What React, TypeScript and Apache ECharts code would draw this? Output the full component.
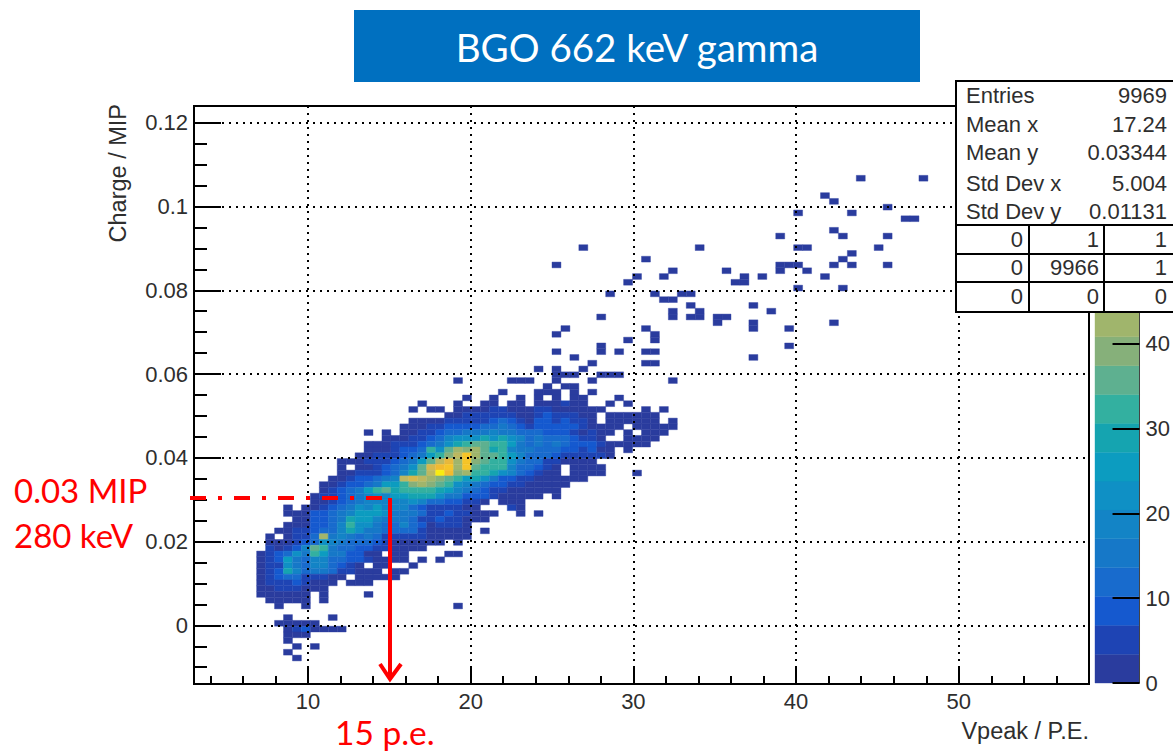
import React, { useEffect, useRef } from "react";
import * as echarts from "echarts";

const X_MIN = 3, X_MAX = 58, Y_MIN = -0.014, Y_MAX = 0.124;
const BINS = 100;
const BIN_X = (X_MAX - X_MIN) / BINS;
const BIN_Y = (Y_MAX - Y_MIN) / BINS;
const Z_MAX = 68;

const xLabelValues = [10, 20, 30, 40, 50];
const xMinorValues = [4, 6, 8, 12, 14, 16, 18, 22, 24, 26, 28, 32, 34, 36, 38, 42, 44, 46, 48, 52, 54, 56, 58];
const yLabelValues = [0, 0.02, 0.04, 0.06, 0.08, 0.1, 0.12];
const yMinorValues = [-0.01, -0.005, 0.005, 0.01, 0.015, 0.025, 0.03, 0.035, 0.045, 0.05, 0.055, 0.065, 0.07, 0.075, 0.085, 0.09, 0.095, 0.105, 0.11, 0.115];
const zLabelValues = [0, 10, 20, 30, 40];

const paletteColors = ["#2a3c9e", "#1e44b4", "#1559cf", "#186bcd", "#1678c8", "#1384c6", "#0f90c5", "#0c9cc0", "#15a4b0", "#33b0a0", "#5eb090", "#86b07a", "#a0b56c", "#bcb860", "#d6b84c", "#e8b83c", "#f2ba30", "#f6c428", "#f7d81c", "#f9ec10"];

const statLabels = ["Entries", "Mean x", "Mean y", "Std Dev x", "Std Dev y"];
const statValues = ["9969", "17.24", "0.03344", "5.004", "0.01131"];
const statY = [95, 124, 152, 183, 211];
const tableRows = [["0", "1", "1"], ["0", "9966", "1"], ["0", "0", "0"]];

// [row, first column, counts per bin]
const denseRows: [number, number, number[]][] = [
  [48, 25, [2,0,0,0,2,0,0,2,2,0,2,2,0,2,2,2,5,2,2,0,0,2,0,2]],
  [47, 24, [2,0,2,2,0,2,2,2,2,5,5,2,2,2,5,5,2,2,2,2,2,2,0,0,0,0,2,0,2]],
  [46, 28, [2,2,5,5,5,5,5,5,2,2,5,8,5,5,5,2,2,0,2,2,2,2,2,2]],
  [45, 24, [2,2,2,2,5,5,5,5,5,8,12,8,5,2,8,8,5,8,5,5,2,0,2,2,2,2,2,2,0,2]],
  [44, 23, [2,2,2,5,5,8,8,8,8,12,12,15,12,8,5,8,8,8,8,8,5,2,2,2,2,0,2,2,2,2,2]],
  [43, 19, [2,0,2,0,2,2,5,5,8,12,12,15,15,15,19,15,15,12,12,12,8,8,8,5,2,5,2,2,0,2,0,2,2,2]],
  [42, 21, [2,2,2,5,5,8,12,19,22,22,22,29,22,29,22,19,12,15,12,12,12,8,5,5,2,0,0,2,2,2,2]],
  [41, 19, [2,2,2,5,5,5,8,12,15,22,29,32,36,36,32,32,25,15,12,15,12,15,12,8,8,8,5,2,2,2,2,2]],
  [40, 19, [2,2,2,5,8,8,12,32,22,36,42,39,42,36,29,32,19,15,15,12,12,12,8,8,5,8,2,2,0,2]],
  [39, 18, [2,2,5,5,5,8,12,15,25,32,39,46,59,42,36,36,32,25,19,12,12,12,8,5,5,5,5,5,2]],
  [38, 16, [2,2,2,5,5,5,8,12,15,25,36,46,53,42,59,39,36,32,32,22,15,12,12,5,5,2,2,2,2]],
  [37, 16, [2,0,2,2,5,8,12,15,22,36,49,56,59,42,59,36,32,32,32,19,12,12,8,5,2,0,2,2,2,2]],
  [36, 16, [2,2,5,5,5,8,12,19,29,36,46,66,56,39,42,32,32,29,22,19,12,8,5,2,2,0,2,2,2,2,0,0,0,2]],
  [35, 15, [2,2,5,8,8,12,15,19,46,49,46,42,39,36,32,25,29,22,15,8,8,5,5,2,2,2,2,2,2]],
  [34, 14, [2,2,5,8,8,12,15,25,25,32,39,42,39,36,32,22,19,15,12,8,8,5,5,2,2,2,2,2]],
  [33, 14, [2,5,8,12,15,25,32,36,29,32,32,32,32,29,25,19,15,12,8,5,5,2,2,2,2,2,2]],
  [32, 13, [2,5,5,8,12,15,19,22,19,25,25,29,29,29,22,15,15,8,8,8,5,2,2,2,2,2,0,2]],
  [31, 13, [2,2,5,8,12,15,19,19,19,19,19,22,19,12,12,8,8,5,5,2,0,2,2,2]],
  [30, 10, [2,0,2,2,5,8,12,15,22,19,25,19,19,19,12,8,5,5,5,5,2,2,0,0,0,5,2]],
  [29, 10, [2,2,2,8,8,12,15,19,25,25,25,22,15,15,15,12,5,5,8,5,5,2,2,2,0,0,2,0,2]],
  [28, 11, [2,2,8,8,12,15,29,25,25,19,15,15,15,12,5,5,8,5,5,2,2,2]],
  [27, 10, [2,2,2,8,8,12,19,32,22,22,15,12,12,19,12,8,2,5,5,5,2]],
  [26, 9, [2,2,5,5,8,12,12,19,29,22,15,15,12,12,12,12,5,2,2,2,2,2,0,2]],
  [25, 8, [2,0,2,5,5,12,42,15,19,15,12,15,12,5,5,5,5,5,2,2,2,2,2]],
  [24, 8, [2,2,2,5,8,12,22,19,15,12,12,12,8,5,2,2,2,2,2,2,0,2]],
  [23, 8, [5,2,5,8,19,36,32,15,12,12,8,8,5,5,2,2,2,2]],
  [22, 7, [2,5,8,12,22,15,32,25,15,15,8,8,2,2,0,2,2,0,0,0,0,2,2]],
  [21, 7, [2,5,8,25,15,12,19,19,12,12,8,8,5,2,2,2,2,0,2,0,2]],
  [20, 7, [2,5,5,22,15,12,19,19,12,8,5,2,0,2,2,0,0,2]],
  [19, 7, [2,5,8,29,19,12,15,15,12,5,5,2,2,2,0,2,2]],
  [18, 7, [2,5,8,12,12,5,5,5,2,2,0,2,2,2,2,2]],
  [17, 7, [2,5,5,5,8,5,2,2,2,0,2,2,2]],
  [16, 7, [2,2,5,5,5,2,2,2]],
  [9, 10, [2,5,8,2,2,2,2]],
];

// [row, columns holding a single low count]
const sparseRows: [number, number[]][] = [
  [87, [74, 81]], [84, [70]], [83, [71]], [82, [77]], [81, [67, 73]], [80, [79, 80]],
  [78, [71]], [77, [65, 72, 77]], [75, [43, 56, 67, 68, 76]], [74, [73]], [73, [50, 72]],
  [72, [40, 65, 66, 67, 71, 73, 77]], [71, [53, 59, 65, 68]], [70, [49, 52, 61, 63, 70]],
  [69, [48, 60, 61]], [68, [67, 72]], [67, [46, 51, 54, 55]], [66, [52, 53]], [65, [55, 62]],
  [64, [53, 56, 64]], [63, [45, 53, 55, 56, 58, 59]], [62, [58, 62, 71]], [61, [41, 50, 62, 66]],
  [60, [40, 51]], [59, [48, 51]], [58, [45, 66]], [57, [40, 45, 47, 50, 51]], [56, [42, 62]],
  [55, [44, 50, 51]], [54, [38, 40, 43]], [53, [40, 41, 42, 45, 46, 47]],
  [52, [29, 35, 36, 37, 40, 44, 53]], [51, [39, 41, 42]], [50, [34, 38, 39, 40, 42, 44]],
  [49, [30, 33, 36, 38, 40, 42, 43, 47]],
  [15, [7, 8, 9, 10, 11, 12, 14, 19]], [14, [8, 9, 10, 11, 12, 14]], [13, [9, 12, 29]],
  [11, [10, 15]], [10, [9, 10, 11, 12, 13]], [8, [10, 11, 12]], [7, [10]], [6, [11, 13]],
  [5, [10]], [4, [11]],
];

const cells: number[][] = [];
denseRows.forEach(([row, start, counts]) =>
  counts.forEach((c, i) => {
    if (c > 0) cells.push([X_MIN + (start + i) * BIN_X, Y_MIN + row * BIN_Y, c]);
  })
);
sparseRows.forEach(([row, cols]) =>
  cols.forEach((col) => cells.push([X_MIN + col * BIN_X, Y_MIN + row * BIN_Y, 1]))
);
const bandStep = Z_MAX / paletteColors.length;
const bandData = paletteColors.map((_, i) => [0, i * bandStep, i]);

const AXIS = "#000";
const TEXT = "#2e2e2e";
const FONT = "Liberation Sans";
const LATO = "Lato";
const RED = "#ff0000";

function App() {
  const ref = useRef<HTMLDivElement>(null);
  useEffect(() => {
    const chart = echarts.init(ref.current!, undefined, { renderer: "svg" });
    const hidden = { show: false };
    const tableLine = (x1: number, y1: number, x2: number, y2: number) => ({
      type: "line", z: 101, shape: { x1, y1, x2, y2 }, style: { stroke: "#000", lineWidth: 2 },
    });
    const tt = (text: string, x: number, y: number, align: string) => ({
      type: "text", z: 102, x, y,
      style: { text, fill: TEXT, font: `22px '${FONT}'`, align, verticalAlign: "middle" },
    });
    const red = (text: string, x: number, y: number, size = 33) => ({
      type: "text", z: 110, x, y,
      style: { text, fill: RED, font: `${size}px '${LATO}'`, align: "left", verticalAlign: "middle" },
    });
    const graphic: any[] = [
      { type: "rect", z: 100, shape: { x: 354, y: 10, width: 566, height: 72 }, style: { fill: "#0070c0" } },
      { type: "text", z: 101, x: 637, y: 47, style: { text: "BGO 662 keV gamma", fill: "#fff", font: `38.5px '${LATO}'`, align: "center", verticalAlign: "middle" } },
      { type: "rect", z: 100, shape: { x: 956, y: 81, width: 230, height: 231 }, style: { fill: "#fff", stroke: "#000", lineWidth: 2 } },
      tableLine(956, 225, 1173, 225), tableLine(956, 254, 1173, 254), tableLine(956, 282, 1173, 282),
      tableLine(1029, 225, 1029, 311), tableLine(1104, 225, 1104, 311),
      ...statLabels.map((s, i) => tt(s, 966, statY[i], "left")),
      ...statValues.map((s, i) => tt(s, 1167, statY[i], "right")),
      ...tableRows.flatMap((r, i) => [
        tt(r[0], 1023, 239 + i * 28.5, "right"),
        tt(r[1], 1099, 239 + i * 28.5, "right"),
        tt(r[2], 1167, 239 + i * 28.5, "right"),
      ]),
      { type: "line", z: 110, shape: { x1: 190, y1: 498, x2: 384, y2: 498 }, style: { stroke: RED, lineWidth: 4, lineDash: [16, 12, 4, 12] } },
      { type: "line", z: 110, shape: { x1: 390, y1: 498, x2: 390, y2: 679 }, style: { stroke: RED, lineWidth: 4 } },
      { type: "polyline", z: 110, shape: { points: [[380, 664], [390, 679], [401, 664]] }, style: { stroke: RED, lineWidth: 4, fill: "none" } },
      red("0.03 MIP", 14, 490), red("280 keV", 14, 535), red("15 p.e.", 335, 732, 33.5),
    ];
    chart.setOption({
      animation: false,
      backgroundColor: "#fff",
      grid: [
        { left: 194, top: 106, width: 895, height: 578, show: true, borderColor: AXIS, borderWidth: 2, backgroundColor: "#fff" },
        { left: 1095, top: 106, width: 49, height: 577 },
      ],
      xAxis: [
        {
          type: "value", gridIndex: 0, min: X_MIN, max: X_MAX, z: 5, position: "bottom",
          name: "Vpeak / P.E.", nameLocation: "end", nameGap: 0,
          nameTextStyle: { fontFamily: FONT, fontSize: 23.5, color: TEXT, align: "right", verticalAlign: "top", padding: [35, 0, 0, 0] },
          axisLine: { onZero: false, show: false },
          axisTick: { inside: true, length: 17, customValues: xLabelValues, lineStyle: { color: AXIS, width: 2 } },
          axisLabel: { customValues: xLabelValues, margin: 6, fontFamily: FONT, fontSize: 22, color: TEXT, showMinLabel: true, showMaxLabel: true },
          splitLine: { show: true, lineStyle: { color: "#000", type: [2, 5], width: 2 } },
        },
        {
          type: "value", gridIndex: 0, min: X_MIN, max: X_MAX, z: 5, position: "bottom",
          axisLine: { onZero: false, show: false },
          axisTick: { inside: true, length: 8, customValues: xMinorValues, lineStyle: { color: AXIS, width: 2 } },
          axisLabel: hidden, splitLine: hidden,
        },
        { type: "value", gridIndex: 1, min: 0, max: 1, show: false },
      ],
      yAxis: [
        {
          type: "value", gridIndex: 0, min: Y_MIN, max: Y_MAX, z: 5, position: "left",
          name: "Charge / MIP", nameLocation: "end", nameGap: 2, nameRotate: 90,
          nameTextStyle: { fontFamily: FONT, fontSize: 23.5, color: TEXT, align: "right", verticalAlign: "bottom", padding: [0, 0, 64, 0] },
          axisLine: { onZero: false, show: false },
          axisTick: { inside: true, length: 27, customValues: yLabelValues, lineStyle: { color: AXIS, width: 2 } },
          axisLabel: { customValues: yLabelValues, margin: 6, fontFamily: FONT, fontSize: 22, color: TEXT },
          splitLine: { show: true, lineStyle: { color: "#000", type: [2, 5], width: 2 } },
        },
        {
          type: "value", gridIndex: 0, min: Y_MIN, max: Y_MAX, z: 5, position: "left",
          axisLine: { onZero: false, show: false },
          axisTick: { inside: true, length: 13, customValues: yMinorValues, lineStyle: { color: AXIS, width: 2 } },
          axisLabel: hidden, splitLine: hidden,
        },
        {
          type: "value", gridIndex: 1, min: 0, max: Z_MAX, z: 5, position: "right",
          axisLine: { onZero: false, show: true, lineStyle: { color: "#444", width: 1 } },
          axisTick: { inside: true, length: 27, customValues: zLabelValues, lineStyle: { color: "#000", width: 2 } },
          axisLabel: { customValues: zLabelValues, margin: 6, fontFamily: FONT, fontSize: 22, color: TEXT },
          splitLine: hidden,
        },
      ],
      series: [
        {
          type: "custom", xAxisIndex: 0, yAxisIndex: 0, z: 2, data: cells, encode: { x: 0, y: 1 },
          renderItem: (_: any, api: any) => {
            const x = api.value(0), y = api.value(1), c = api.value(2);
            const p0 = api.coord([x, y]);
            const p1 = api.coord([x + BIN_X, y + BIN_Y]);
            const color = paletteColors[Math.min(paletteColors.length - 1, Math.floor(c / bandStep))];
            return {
              type: "rect",
              shape: { x: p0[0], y: p1[1], width: p1[0] - p0[0], height: p0[1] - p1[1] },
              style: { fill: color, stroke: color, lineWidth: 0.4 },
            };
          },
        },
        {
          type: "custom", xAxisIndex: 2, yAxisIndex: 2, z: 2, data: bandData, encode: { x: 0, y: 1 },
          renderItem: (_: any, api: any) => {
            const z = api.value(1);
            const p0 = api.coord([0, z]);
            const p1 = api.coord([1, z + bandStep]);
            const color = paletteColors[api.value(2)];
            return {
              type: "rect",
              shape: { x: p0[0], y: p1[1], width: p1[0] - p0[0], height: p0[1] - p1[1] },
              style: { fill: color, stroke: color, lineWidth: 0.4 },
            };
          },
        },
      ],
      graphic,
    });
    return () => chart.dispose();
  }, []);
  return <div ref={ref} style={{ position: "absolute", left: 0, top: 0, width: 1173, height: 754 }} />;
}

export default App;
